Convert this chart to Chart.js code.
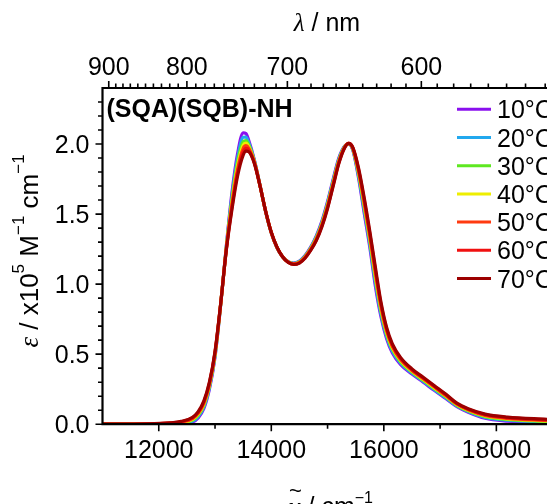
<!DOCTYPE html>
<html>
<head>
<meta charset="utf-8">
<script src="https://cdn.jsdelivr.net/npm/chart.js@4/dist/chart.umd.min.js"></script>
<style>
  html, body { margin: 0; padding: 0; background: #ffffff; overflow: hidden; }
  canvas { display: block; }
</style>
</head>
<body>
<canvas id="chart" width="547" height="504"></canvas>
<script>
// Wavenumber grid (cm^-1) shared by all temperature series
const wavenumber = [11000, 11800, 12200, 12400, 12600, 12700, 12800, 12900, 13000, 13100,
  13200, 13300, 13400, 13500, 13550, 13600, 13700, 13800, 13900, 14000,
  14100, 14200, 14300, 14400, 14500, 14600, 14700, 14800, 14900, 15000,
  15100, 15200, 15300, 15375, 15450, 15550, 15650, 15750, 15850, 15950,
  16050, 16150, 16300, 16500, 16700, 16900, 17100, 17300, 17500, 17800,
  18200, 18900];

// Extinction coefficient, epsilon / 10^5 M^-1 cm^-1
const eps10 = [0.000, 0.000, 0.001, 0.003, 0.015, 0.045, 0.110, 0.250, 0.480, 0.850,
  1.270, 1.650, 1.930, 2.080, 2.075, 2.025, 1.885, 1.705, 1.515, 1.365,
  1.260, 1.195, 1.160, 1.150, 1.165, 1.205, 1.265, 1.345, 1.450, 1.590,
  1.750, 1.900, 1.985, 2.000, 1.955, 1.760, 1.510, 1.265, 0.985, 0.765,
  0.610, 0.510, 0.425, 0.358, 0.300, 0.240, 0.183, 0.125, 0.085, 0.042,
  0.022, 0.009];
const eps20 = [0.000, 0.000, 0.003, 0.006, 0.022, 0.054, 0.121, 0.260, 0.488, 0.852,
  1.264, 1.626, 1.898, 2.048, 2.050, 2.009, 1.880, 1.704, 1.516, 1.366,
  1.261, 1.195, 1.159, 1.148, 1.162, 1.201, 1.260, 1.338, 1.442, 1.580,
  1.740, 1.892, 1.982, 2.001, 1.959, 1.774, 1.532, 1.288, 1.012, 0.786,
  0.626, 0.523, 0.435, 0.365, 0.307, 0.247, 0.189, 0.130, 0.090, 0.048,
  0.028, 0.014];
const eps30 = [0.000, 0.001, 0.004, 0.010, 0.029, 0.063, 0.132, 0.270, 0.496, 0.854,
  1.258, 1.602, 1.866, 2.016, 2.025, 1.993, 1.875, 1.703, 1.517, 1.367,
  1.262, 1.195, 1.158, 1.146, 1.159, 1.197, 1.255, 1.331, 1.434, 1.570,
  1.730, 1.884, 1.979, 2.002, 1.963, 1.788, 1.554, 1.311, 1.039, 0.807,
  0.642, 0.536, 0.445, 0.373, 0.314, 0.254, 0.196, 0.135, 0.095, 0.054,
  0.034, 0.019];
const eps40 = [0.000, 0.001, 0.005, 0.012, 0.034, 0.070, 0.140, 0.278, 0.502, 0.856,
  1.254, 1.584, 1.842, 1.992, 2.006, 1.981, 1.871, 1.702, 1.518, 1.368,
  1.263, 1.195, 1.157, 1.145, 1.157, 1.194, 1.251, 1.326, 1.428, 1.563,
  1.723, 1.878, 1.977, 2.003, 1.966, 1.799, 1.571, 1.328, 1.059, 0.823,
  0.654, 0.546, 0.453, 0.378, 0.319, 0.259, 0.201, 0.139, 0.099, 0.059,
  0.038, 0.023];
const eps50 = [0.000, 0.001, 0.007, 0.015, 0.040, 0.077, 0.149, 0.285, 0.508, 0.857,
  1.249, 1.566, 1.818, 1.968, 1.988, 1.969, 1.868, 1.702, 1.519, 1.369,
  1.264, 1.195, 1.157, 1.143, 1.155, 1.191, 1.248, 1.321, 1.422, 1.555,
  1.715, 1.872, 1.975, 2.004, 1.969, 1.809, 1.587, 1.346, 1.080, 0.839,
  0.666, 0.556, 0.460, 0.384, 0.325, 0.265, 0.205, 0.143, 0.103, 0.063,
  0.042, 0.027];
const eps60 = [0.000, 0.002, 0.008, 0.017, 0.045, 0.083, 0.157, 0.293, 0.514, 0.859,
  1.245, 1.548, 1.794, 1.944, 1.969, 1.957, 1.864, 1.701, 1.519, 1.369,
  1.264, 1.195, 1.156, 1.142, 1.152, 1.188, 1.244, 1.315, 1.416, 1.548,
  1.708, 1.866, 1.972, 2.004, 1.972, 1.820, 1.604, 1.363, 1.100, 0.854,
  0.678, 0.565, 0.468, 0.389, 0.330, 0.270, 0.210, 0.146, 0.106, 0.068,
  0.047, 0.031];
const eps70 = [0.000, 0.002, 0.009, 0.020, 0.050, 0.090, 0.165, 0.300, 0.520, 0.860,
  1.240, 1.530, 1.770, 1.920, 1.950, 1.945, 1.860, 1.700, 1.520, 1.370,
  1.265, 1.195, 1.155, 1.140, 1.150, 1.185, 1.240, 1.310, 1.410, 1.540,
  1.700, 1.860, 1.970, 2.005, 1.975, 1.830, 1.620, 1.380, 1.120, 0.870,
  0.690, 0.575, 0.475, 0.395, 0.335, 0.275, 0.215, 0.150, 0.110, 0.072,
  0.051, 0.035];

const seriesLabels = ['10°C', '20°C', '30°C', '40°C', '50°C', '60°C', '70°C'];
const seriesValues = [eps10, eps20, eps30, eps40, eps50, eps60, eps70];
const seriesColors = ['#8a10ee', '#22a8ee', '#5ee820', '#eeee00', '#ff3a10', '#f01010', '#9c0000'];

// Axis ticks
const xTickLabels = ['12000', '14000', '16000', '18000'];
const xMinorTicks = [13000, 15000, 17000];
const yTickLabels = ['0.0', '0.5', '1.0', '1.5', '2.0'];
const yMinorTicks = [0.1, 0.2, 0.3, 0.4, 0.6, 0.7, 0.8, 0.9, 1.1, 1.2, 1.3, 1.4,
  1.6, 1.7, 1.8, 1.9, 2.1, 2.2, 2.3];
const nmTickLabels = ['900', '800', '700', '600'];
const nmMinorTicks = [890, 880, 870, 860, 850, 840, 830, 820, 810, 790, 780, 770, 760,
  750, 740, 730, 720, 710, 690, 680, 670, 660, 650, 640, 630, 620, 610, 590, 580,
  570, 560, 550, 540, 530];

const panelTitle = '(SQA)(SQB)-NH';

const SANS = '"Liberation Sans", Arial, Helvetica, sans-serif';
const SERIF = '"Liberation Serif", "Times New Roman", serif';

function drawRuns(ctx, runs, x, y) {
  let total = 0;
  runs.forEach(r => { ctx.font = r.font; r.w = ctx.measureText(r.text).width; total += r.w; });
  let cx = x - total / 2;
  const starts = [];
  runs.forEach(r => {
    ctx.font = r.font;
    starts.push(cx);
    ctx.fillText(r.text, cx, y + (r.dy || 0));
    cx += r.w;
  });
  return starts;
}

const axesPlugin = {
  id: 'spectrumAxes',
  afterDatasetsDraw(chart) {
    const { ctx, chartArea: ca, scales } = chart;
    const xs = scales.x, ys = scales.y;
    ctx.save();
    ctx.strokeStyle = '#000';
    ctx.fillStyle = '#000';

    // frame lines (left, top, bottom)
    ctx.lineWidth = 2.2;
    ctx.beginPath();
    ctx.moveTo(ca.left, ca.top - 1); ctx.lineTo(ca.left, ca.bottom + 1);
    ctx.moveTo(ca.left - 1, ca.top); ctx.lineTo(ca.right + 2, ca.top);
    ctx.moveTo(ca.left - 1, ca.bottom); ctx.lineTo(ca.right + 2, ca.bottom);
    ctx.stroke();

    // tick marks
    ctx.lineWidth = 1.6;
    ctx.beginPath();
    xTickLabels.forEach(t => {
      const px = xs.getPixelForValue(parseFloat(t));
      ctx.moveTo(px, ca.bottom); ctx.lineTo(px, ca.bottom + 7);
    });
    xMinorTicks.forEach(v => {
      const px = xs.getPixelForValue(v);
      ctx.moveTo(px, ca.bottom); ctx.lineTo(px, ca.bottom + 4.5);
    });
    yTickLabels.forEach(t => {
      const py = ys.getPixelForValue(parseFloat(t));
      ctx.moveTo(ca.left, py); ctx.lineTo(ca.left - 7, py);
    });
    yMinorTicks.forEach(v => {
      const py = ys.getPixelForValue(v);
      ctx.moveTo(ca.left, py); ctx.lineTo(ca.left - 4.5, py);
    });
    nmTickLabels.forEach(t => {
      const px = xs.getPixelForValue(1e7 / parseFloat(t));
      ctx.moveTo(px, ca.top); ctx.lineTo(px, ca.top - 7);
    });
    nmMinorTicks.forEach(nm => {
      const px = xs.getPixelForValue(1e7 / nm);
      ctx.moveTo(px, ca.top); ctx.lineTo(px, ca.top - 4.5);
    });
    ctx.stroke();

    // tick labels
    ctx.font = '25px ' + SANS;
    ctx.textBaseline = 'alphabetic';
    ctx.textAlign = 'center';
    xTickLabels.forEach(t => {
      ctx.fillText(t, xs.getPixelForValue(parseFloat(t)), ca.bottom + 33.5);
    });
    nmTickLabels.forEach(t => {
      ctx.fillText(t, xs.getPixelForValue(1e7 / parseFloat(t)), ca.top - 13.5);
    });
    ctx.textAlign = 'right';
    yTickLabels.forEach(t => {
      ctx.fillText(t, ca.left - 13, ys.getPixelForValue(parseFloat(t)) + 9);
    });

    // top axis title: lambda / nm
    ctx.textAlign = 'left';
    drawRuns(ctx, [
      { text: 'λ', font: 'italic 25px ' + SERIF },
      { text: ' / nm', font: '25px ' + SANS }
    ], 327, 31);

    // bottom axis title: wavenumber / cm^-1
    const starts = drawRuns(ctx, [
      { text: 'ν', font: 'italic 26px ' + SERIF },
      { text: ' / cm', font: '25px ' + SANS },
      { text: '−1', font: '16px ' + SANS, dy: -12 }
    ], 331, 515);
    ctx.font = '22px ' + SANS;
    ctx.textAlign = 'center';
    ctx.fillText('~', starts[0] + 6.5, 498);

    // left axis title: epsilon / x10^5 M^-1 cm^-1 (rotated)
    ctx.save();
    ctx.translate(38, 251);
    ctx.rotate(-Math.PI / 2);
    ctx.textAlign = 'left';
    drawRuns(ctx, [
      { text: 'ε', font: 'italic 27px ' + SERIF },
      { text: ' / x10', font: '26px ' + SANS },
      { text: '5', font: '17px ' + SANS, dy: -14 },
      { text: ' M', font: '26px ' + SANS },
      { text: '−1', font: '17px ' + SANS, dy: -14 },
      { text: ' cm', font: '26px ' + SANS },
      { text: '−1', font: '17px ' + SANS, dy: -14 }
    ], 0, 0);
    ctx.restore();

    // panel title
    ctx.textAlign = 'left';
    ctx.font = 'bold 25px ' + SANS;
    ctx.fillText(panelTitle, ca.left + 4, 116.5);

    // legend
    const legendTop = 109.3, rowStep = 28.2;
    chart.data.datasets.forEach((ds, i) => {
      const yy = legendTop + i * rowStep;
      ctx.strokeStyle = ds.borderColor;
      ctx.lineWidth = 3;
      ctx.beginPath();
      ctx.moveTo(457, yy); ctx.lineTo(491, yy);
      ctx.stroke();
      ctx.fillStyle = '#000';
      ctx.font = '25px ' + SANS;
      ctx.fillText(ds.label, 497, yy + 9);
    });

    ctx.restore();
  }
};

const datasets = seriesLabels.map((label, i) => ({
  label: label,
  data: wavenumber.map((v, k) => ({ x: v, y: seriesValues[i][k] })),
  borderColor: seriesColors[i],
  backgroundColor: seriesColors[i],
  borderWidth: 3.2,
  pointRadius: 0,
  fill: false,
  cubicInterpolationMode: 'monotone',
  order: seriesLabels.length - i
}));

new Chart(document.getElementById('chart'), {
  type: 'line',
  data: { datasets: datasets },
  options: {
    responsive: false,
    animation: false,
    devicePixelRatio: 1,
    layout: { padding: { left: 102.5, top: 88, right: 0, bottom: 79.8 } },
    plugins: { legend: { display: false }, tooltip: { enabled: false } },
    scales: {
      x: { type: 'linear', min: 11000, max: 18900, display: false },
      y: { type: 'linear', min: 0, max: 2.4, display: false }
    }
  },
  plugins: [axesPlugin]
});
</script>
</body>
</html>
